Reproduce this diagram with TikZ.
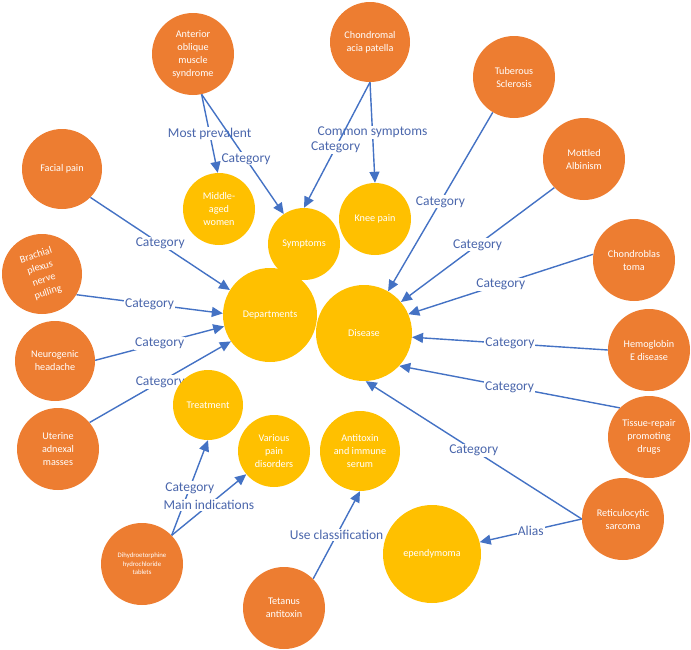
\documentclass[tikz,border=0pt]{standalone}
\usepackage{fontspec}
\usepackage{graphicx}
\setmainfont{Carlito}
\usetikzlibrary{arrows.meta}
\definecolor{orn}{HTML}{ED7D31}
\definecolor{gld}{HTML}{FFC000}
\definecolor{edg}{HTML}{4472C4}
\definecolor{lbl}{HTML}{4A66AC}
\pgfdeclarelayer{bg}
\pgfsetlayers{bg,main}
\tikzset{
 onode/.style={circle, fill=orn, text=white, minimum size=82pt, inner sep=0pt, align=center, font=\fontsize{10.2}{13}\selectfont},
 ynode/.style={circle, fill=gld, text=white, inner sep=0pt, align=center, font=\fontsize{10.2}{13}\selectfont},
 rel/.style={draw=edg, line width=1.4pt, -{Triangle[length=11pt,width=10pt]}},
 lab/.style={fill=white, text=lbl, inner sep=1pt, font=\fontsize{13.5}{15}\selectfont, midway}
}
\begin{document}
\begin{tikzpicture}[x=1pt,y=-1pt]
\useasboundingbox (0,0) rectangle (691,649);
% orange nodes
\node[onode] (ant) at (193,54) {Anterior\\oblique\\muscle\\syndrome};
\node[onode, minimum size=80pt] (chon) at (370,42) {Chondromal\\acia patella};
\node[onode] (tub) at (514,77) {Tuberous\\Sclerosis};
\node[onode] (mot) at (584,159) {Mottled\\Albinism};
\node[onode] (cbl) at (634,260) {Chondroblas\\toma};
\node[onode] (hem) at (649,350) {Hemoglobin\\E disease};
\node[onode] (tis) at (649,437) {Tissue-repair\\promoting\\drugs};
\node[onode] (ret) at (623,519) {Reticulocytic\\sarcoma};
\node[onode] (tet) at (284,608) {Tetanus\\antitoxin};
\node[onode, font=\fontsize{6.8}{8.5}\selectfont] (dih) at (142,564) {Dihydroetorphine\\hydrochloride\\tablets};
\node[onode] (ute) at (58,449) {Uterine\\adnexal\\masses};
\node[onode, minimum size=80pt] (neu) at (55,361) {Neurogenic\\headache};
\node[onode, minimum size=80pt] (bra) at (42,274) {\rotatebox{18}{\begin{tabular}{@{}c@{}}Brachial\\plexus\\nerve\\pulling\end{tabular}}};
\node[onode, minimum size=80pt] (fac) at (62,169) {Facial pain};
% yellow nodes
\node[ynode, minimum size=72pt] (mid) at (219,209) {Middle-\\aged\\women};
\node[ynode, minimum size=72pt] (sym) at (304,244) {Symptoms};
\node[ynode, minimum size=72pt] (kne) at (375,219) {Knee pain};
\node[ynode, minimum size=94pt] (dep) at (270,315) {Departments};
\node[ynode, minimum size=96pt] (dis) at (364,333) {Disease};
\node[ynode, minimum size=70pt] (tre) at (208,405) {Treatment};
\node[ynode, minimum size=72pt] (var) at (274,451) {Various\\pain\\disorders};
\node[ynode, minimum size=80pt] (anti) at (360,451) {Antitoxin\\and immune\\serum};
\node[ynode, minimum size=98pt] (epe) at (432,554) {ependymoma};
% connectors
\begin{pgfonlayer}{bg}
\draw[rel] (ant.-78) -- node[lab]{Most prevalent} (mid.92);
\draw[rel] (ant.-78) -- node[lab, pos=0.54]{Category} (sym.124);
\draw[rel] (chon.-90) -- node[lab]{Common symptoms} (kne.90);
\draw[rel] (chon.-90) -- node[lab, pos=0.52]{Category} (sym.90);
\draw[rel] (fac.-45) -- node[lab]{Category} (dep.148);
\draw[rel] (bra.-31) -- node[lab]{Category} (dep.178);
\draw[rel] (neu.1) -- node[lab]{Category} (dep.194);
\draw[rel] (ute.40) -- node[lab]{Category} (dep.214);
\draw[rel] (tub.239) -- node[lab]{Category} (dis.60);
\draw[rel] (mot.224) -- node[lab]{Category} (dis.40);
\draw[rel] (cbl.172) -- node[lab]{Category} (dis.23);
\draw[rel] (hem.180) -- node[lab]{Category} (dis.-5);
\draw[rel] (tis.135) -- node[lab]{Category} (dis.-43);
\draw[rel] (ret.180) -- node[lab]{Category} (dis.-88);
\draw[rel] (ret.180) -- node[lab]{Alias} (epe.14);
\draw[rel] (dih.44) -- node[lab]{Category} (tre.-90);
\draw[rel] (dih.44) -- node[lab]{Main indications} (var.220);
\draw[rel] (tet.45) -- node[lab]{Use classification} (anti.-90);
\end{pgfonlayer}
\end{tikzpicture}
\end{document}
